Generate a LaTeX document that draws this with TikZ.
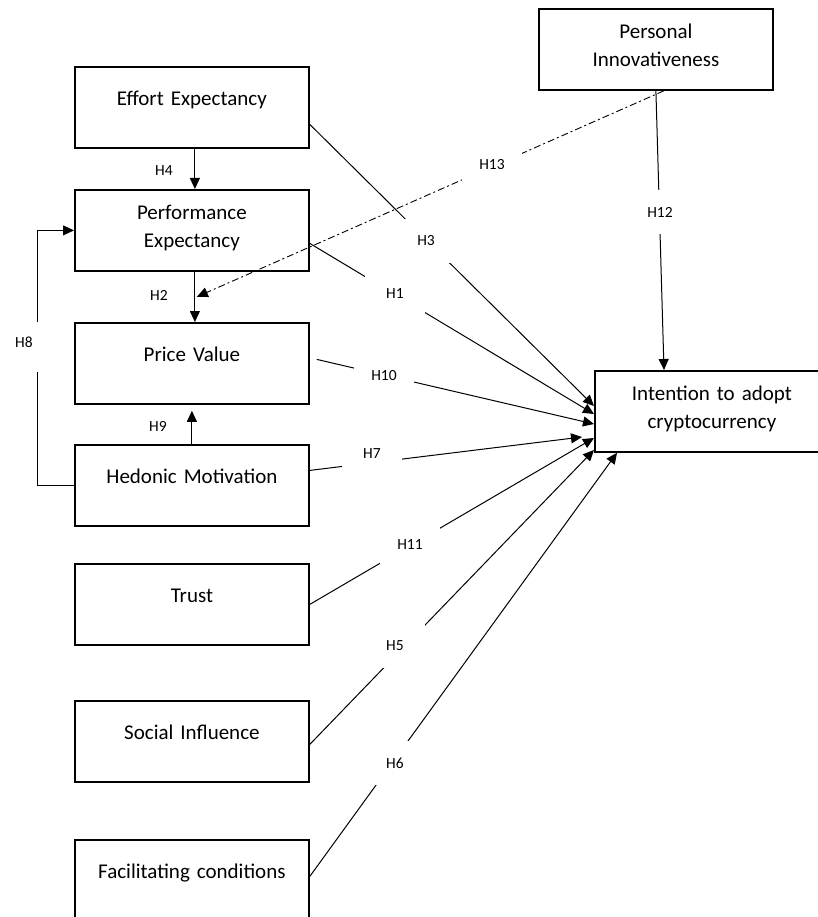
\documentclass[tikz,border=0pt]{standalone}
\usepackage{fontspec}
\setmainfont{Carlito}
\usepackage{tikz}
\usetikzlibrary{positioning,shapes,arrows.meta}

\begin{document}
\begin{tikzpicture}[x=1pt, y=-1pt,
    box/.style={draw, line width=1.8pt, anchor=north west, text width=234pt, align=center, inner sep=0pt,
                font=\fontsize{21}{27.5}\selectfont, text height=39pt, text depth=42pt},
    boxtwo/.style={box, text height=30pt, text depth=51pt},
    hyp/.style={fill=white, inner sep=0pt, minimum width=60pt, minimum height=44pt, font=\fontsize{15.5}{18}\selectfont},
    side/.style={inner sep=0pt, font=\fontsize{15.5}{18}\selectfont},
    arr/.style={line width=1pt, -{Triangle[length=11pt, width=10pt]}}]
    \useasboundingbox (0,0) rectangle (817,917);

    \node[box]    (ee) at (74,66)  {Effort Expectancy};
    \node[boxtwo] (pe) at (74,189) {Performance\\Expectancy};
    \node[box]    (pv) at (74,322) {Price Value};
    \node[box]    (hm) at (74,444) {Hedonic Motivation};
    \node[box]    (tr) at (74,563) {Trust};
    \node[box]    (si) at (74,700) {Social Influence};
    \node[box]    (fc) at (74,839) {Facilitating conditions};
    \node[boxtwo] (pi) at (538,8)  {Personal\\Innovativeness};
    \node[boxtwo] (ia) at (594,370) {Intention to adopt\\cryptocurrency};

    \coordinate (h8lo) at (37,372);
    \coordinate (h8hi) at (37,322);

    \draw[arr] ([xshift=3pt]ee.south) -- ([xshift=3pt]pe.north);
    \draw[arr] ([xshift=3pt]pe.south) -- ([xshift=3pt]pv.north);
    \draw[arr] (hm.north) -- ([yshift=-6pt]pv.south);
    \draw (hm.west) -| (h8lo);
    \draw[arr] (h8hi) |- (pe.west);

    \draw[arr] ([yshift=-17pt]ee.east)       -- ([yshift=-36pt]ia.north west);
    \draw[arr] ([yshift=-13pt]pe.east)       -- ([yshift=-44pt]ia.north west);
    \draw[arr] ([shift={(7pt,4pt)}]pv.east)  -- ([yshift=-54pt]ia.north west);
    \draw[arr] ([yshift=15pt]hm.east)        -- ([shift={(-12pt,-67pt)}]ia.north west);
    \draw[arr] (tr.east)                     -- ([yshift=-68pt]ia.north west);
    \draw[arr] ([yshift=-3pt]si.east)        -- ([yshift=-80pt]ia.north west);
    \draw[arr] ([yshift=4pt]fc.east)         -- ([xshift=23pt]ia.south west);
    \draw[arr] (pi.south)                    -- ([xshift=70pt]ia.north west);
    \draw[arr, line width=.9pt, dash pattern=on 7pt off 3pt on 2pt off 3pt]
        ([xshift=8pt]pi.south) -- ([shift={(5pt,-25pt)}]pe.south);

    \node[hyp] (h1)  at (395,294) {H1};
    \node[hyp] (h3)  at (426,241) {H3};
    \node[hyp] (h5)  at (395,646) {H5};
    \node[hyp] (h6)  at (395,763) {H6};
    \node[hyp] (h7)  at (372,454) {H7};
    \node[hyp] (h10) at (384,376) {H10};
    \node[hyp] (h11) at (410,545) {H11};
    \node[hyp] (h12) at (660,212) {H12};
    \node[hyp] (h13) at (492,165) {H13};

    \node[side] (h2) at (159,295) {H2};
    \node[side] (h4) at (164,171) {H4};
    \node[side] (h8) at (24,342)  {H8};
    \node[side] (h9) at (158,426) {H9};
\end{tikzpicture}
\end{document}
